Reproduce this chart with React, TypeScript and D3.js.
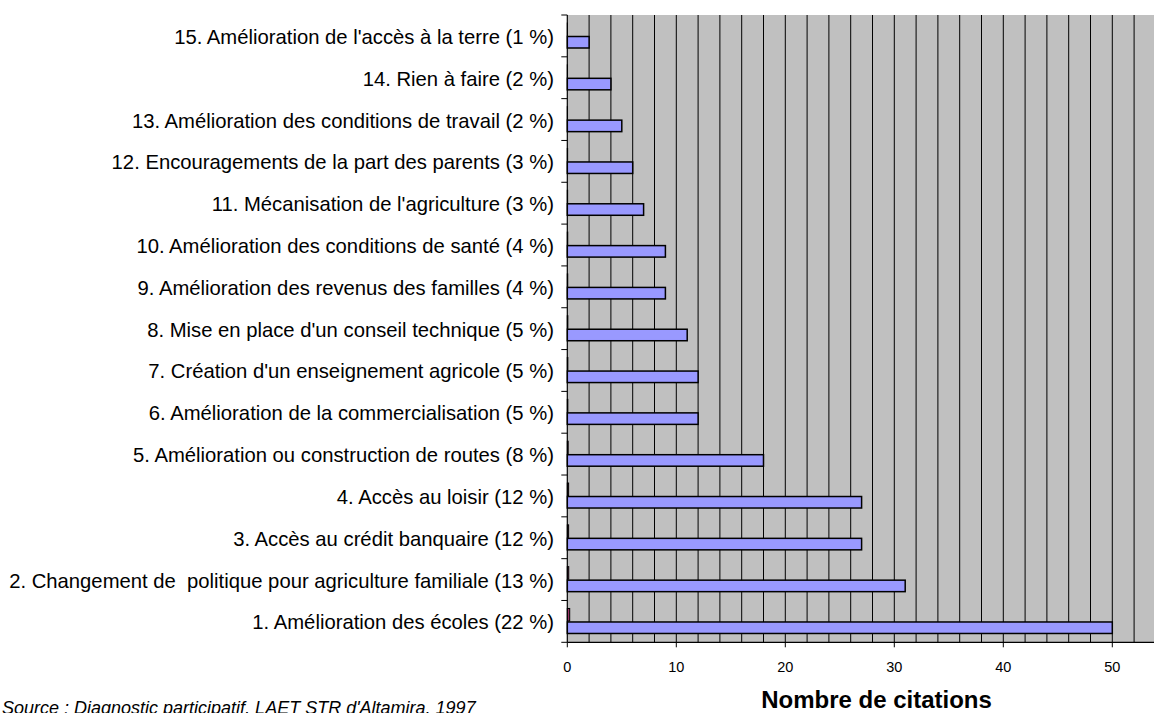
import React from "react";
import * as d3 from "d3";

const categories = [
  "1. Amélioration des écoles (22 %)",
  "2. Changement de  politique pour agriculture familiale (13 %)",
  "3. Accès au crédit banquaire (12 %)",
  "4. Accès au loisir (12 %)",
  "5. Amélioration ou construction de routes (8 %)",
  "6. Amélioration de la commercialisation (5 %)",
  "7. Création d'un enseignement agricole (5 %)",
  "8. Mise en place d'un conseil technique (5 %)",
  "9. Amélioration des revenus des familles (4 %)",
  "10. Amélioration des conditions de santé (4 %)",
  "11. Mécanisation de l'agriculture (3 %)",
  "12. Encouragements de la part des parents (3 %)",
  "13. Amélioration des conditions de travail (2 %)",
  "14. Rien à faire (2 %)",
  "15. Amélioration de l'accès à la terre (1 %)",
];
const citations = [50, 31, 27, 27, 18, 12, 12, 11, 9, 9, 7, 6, 5, 4, 2];
const shares = [0.22, 0.13, 0.12, 0.12, 0.08, 0.05, 0.05, 0.05, 0.04, 0.04, 0.03, 0.03, 0.02, 0.02, 0.01];
const xTicks = [0, 10, 20, 30, 40, 50];
const xTitle = "Nombre de citations";
const sourceText = "Source : Diagnostic participatif, LAET STR d'Altamira, 1997";

const W = 1154;
const H = 713;
const left = 567.3;
const top = 15;
const bottom = 642.3;
const xMax = 54;
const unit = 10.9;

export default function App() {
  const x = d3.scaleLinear().domain([0, xMax]).range([left, left + xMax * unit]);
  const y = d3
    .scaleBand<string>()
    .domain([...categories].reverse())
    .range([top, bottom])
    .padding(0);
  const bw = y.bandwidth();
  const grid = d3.range(2, xMax + 1, 2);
  const font = "'Liberation Sans', Arial, sans-serif";

  return (
    <svg
      width={W}
      height={H}
      style={{ position: "absolute", left: 0, top: 0, overflow: "hidden" }}
    >
      <rect x={0} y={0} width={W} height={H} fill="#ffffff" />
      <rect x={left} y={top} width={x(xMax) - left} height={bottom - top} fill="#C0C0C0" />
      {grid.map((g) => (
        <line key={g} x1={x(g)} x2={x(g)} y1={top} y2={bottom} stroke="#000" strokeWidth={1} />
      ))}
      {categories.map((c, i) => {
        const by = y(c)!;
        return (
          <g key={c}>
            <rect
              x={x(0)}
              y={by + 8}
              width={x(shares[i]) - x(0)}
              height={12.5}
              fill="#993366"
              stroke="#000"
              strokeWidth={1}
            />
            <rect
              x={x(0)}
              y={by + 21.5}
              width={x(citations[i]) - x(0)}
              height={11.5}
              fill="#9999FF"
              stroke="#000"
              strokeWidth={1.5}
            />
            <text
              x={554}
              y={by + bw / 2 + 8}
              textAnchor="end"
              fontFamily={font}
              fontSize={20.25}
              fill="#000"
              style={{ whiteSpace: "pre" }}
            >
              {c}
            </text>
          </g>
        );
      })}
      {/* y axis */}
      <line x1={left} x2={left} y1={top} y2={bottom} stroke="#000" strokeWidth={1.2} />
      {d3.range(categories.length + 1).map((k) => (
        <line
          key={k}
          x1={left - 6}
          x2={left}
          y1={top + k * bw}
          y2={top + k * bw}
          stroke="#000"
          strokeWidth={1}
        />
      ))}
      {/* x axis */}
      <line x1={left} x2={W} y1={bottom} y2={bottom} stroke="#000" strokeWidth={1.2} />
      {xTicks.map((t) => (
        <g key={t}>
          <line x1={x(t)} x2={x(t)} y1={bottom} y2={bottom + 5} stroke="#000" strokeWidth={1} />
          <text
            x={x(t)}
            y={672}
            textAnchor="middle"
            fontFamily={font}
            fontSize={14.5}
            fill="#000"
          >
            {t}
          </text>
        </g>
      ))}
      <text
        x={876.5}
        y={708}
        textAnchor="middle"
        fontFamily={font}
        fontSize={24}
        fontWeight="bold"
        fill="#000"
      >
        {xTitle}
      </text>
      <text
        x={2}
        y={714}
        fontFamily={font}
        fontSize={18}
        fontStyle="italic"
        fill="#000"
      >
        {sourceText}
      </text>
    </svg>
  );
}
